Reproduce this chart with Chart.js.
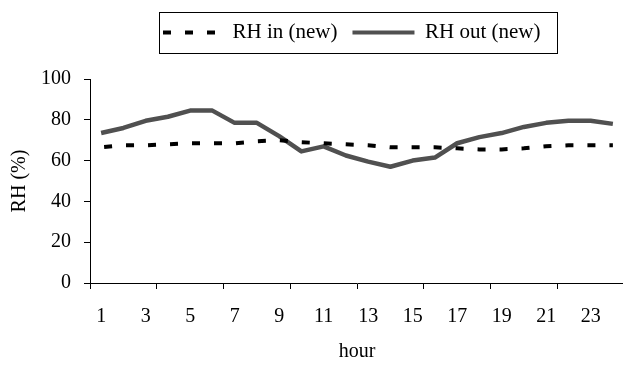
<!DOCTYPE html>
<html>
<head>
<meta charset="utf-8">
<title>RH in / out</title>
<script src="https://cdn.jsdelivr.net/npm/chart.js@4.4.1/dist/chart.umd.min.js"></script>
<style>
  html, body { margin: 0; padding: 0; background: #fff; overflow: hidden; }
  #wrap { width: 640px; height: 366px; }
</style>
</head>
<body>
<div id="wrap"><canvas id="chartRH" width="640" height="366"></canvas></div>
<script>
// hour of day (category labels)
const hours = ['1', '2', '3', '4', '5', '6', '7', '8', '9', '10', '11', '12',
               '13', '14', '15', '16', '17', '18', '19', '20', '21', '22', '23', '24'];

// relative humidity inside (new), %
const rhIn = [66.5, 67.5, 67.5, 68, 68.5, 68.5, 68.5, 69.5, 70, 69, 68.5, 68,
              67.5, 66.5, 66.5, 66.5, 66, 65.5, 65.5, 66, 67, 67.5, 67.5, 67.5];

// relative humidity outside (new), %
const rhOut = [73.5, 76, 79.5, 81.5, 84.5, 84.5, 78.5, 78.5, 72, 64.5, 67, 62.5,
               59.5, 57, 60, 61.5, 68.5, 71.5, 73.5, 76.5, 78.5, 79.5, 79.5, 78];

const serif = "'Liberation Serif', 'Times New Roman', serif";
const axisFont = { family: serif, size: 20 };
const legendFontSize = 21;

// legend sits above the plot, off-centre, in a thin frame (like the Excel original)
const legendFrame = {
    id: 'legendFrame',
    afterLayout(chart) {
        const lg = chart.legend;
        if (!lg || !lg.lineWidths) return;
        const p = lg.options.labels.padding;
        const startX = 160, midY = 32.5;
        const h = lg.height;
        lg.left = startX - p;
        lg.right = startX + lg.lineWidths[0];
        lg.width = lg.right - lg.left;
        lg.top = midY - p - legendFontSize / 2;
        lg.bottom = lg.top + h;
        lg._frame = {
            x: startX - 0.5,
            y: Math.round(midY - 20.5) + 0.5,
            w: Math.round(lg.lineWidths[0] - p + 18),
            h: 41
        };
    },
    afterDraw(chart) {
        const f = chart.legend && chart.legend._frame;
        if (!f) return;
        const ctx = chart.ctx;
        ctx.save();
        ctx.strokeStyle = '#000';
        ctx.lineWidth = 1;
        ctx.setLineDash([]);
        ctx.strokeRect(f.x, f.y, f.w, f.h);
        ctx.restore();
    }
};

// legend samples: take dash / width / colour from the line itself, not from the points
function lineLegendLabels(chart) {
    const items = Chart.defaults.plugins.legend.labels.generateLabels(chart);
    return items.map(item => {
        const ds = chart.data.datasets[item.datasetIndex];
        item.lineDash = ds.borderDash || [];
        item.lineDashOffset = ds.borderDashOffset || 0;
        item.lineWidth = 4;
        item.strokeStyle = ds.borderColor;
        item.fillStyle = ds.borderColor;
        item.lineCap = 'butt';
        return item;
    });
}

new Chart(document.getElementById('chartRH'), {
    type: 'line',
    data: {
        labels: hours,
        datasets: [
            {
                label: 'RH in (new)',
                data: rhIn,
                borderColor: '#000000',
                backgroundColor: '#000000',
                borderWidth: 4,
                borderDash: [8, 14],
                borderDashOffset: 19,   // keeps the 3 dashes clean in the legend sample
                borderCapStyle: 'butt',
                tension: 0,
                pointRadius: 0,
                fill: false
            },
            {
                label: 'RH out (new)',
                data: rhOut,
                borderColor: '#505050',
                backgroundColor: '#505050',
                borderWidth: 4.5,
                borderJoinStyle: 'round',
                tension: 0,
                pointRadius: 0,
                fill: false
            }
        ]
    },
    options: {
        responsive: false,
        devicePixelRatio: 1,
        animation: false,
        layout: { padding: { top: 33, right: 16, left: 0, bottom: 0 } },
        plugins: {
            legend: {
                position: 'top',
                labels: {
                    usePointStyle: true,
                    pointStyle: 'line',
                    pointStyleWidth: 62,
                    padding: 15,
                    color: '#000',
                    font: { family: serif, size: legendFontSize },
                    generateLabels: lineLegendLabels
                }
            },
            tooltip: { enabled: false }
        },
        scales: {
            x: {
                type: 'category',
                offset: true,
                grid: {
                    offset: true,
                    drawOnChartArea: false,
                    drawTicks: true,
                    tickLength: 6,
                    color: c => (c.index % 3 === 0 ? '#000' : 'rgba(0,0,0,0)')
                },
                border: { color: '#000', width: 1 },
                ticks: {
                    autoSkip: false,
                    maxRotation: 0,
                    padding: 16,
                    color: '#000',
                    font: axisFont,
                    callback: (v, i) => (i % 2 === 0 ? hours[i] : '')
                },
                title: {
                    display: true,
                    text: 'hour',
                    color: '#000',
                    font: axisFont,
                    padding: { top: 0, bottom: 2 }
                },
                afterFit: s => { s.height = 83; }
            },
            y: {
                min: 0,
                max: 100,
                grid: { drawOnChartArea: false, tickLength: 6, color: '#000' },
                border: { color: '#000', width: 1 },
                ticks: { stepSize: 20, padding: 13, color: '#000', font: axisFont },
                title: {
                    display: true,
                    text: 'RH (%)',
                    color: '#000',
                    font: axisFont,
                    padding: { top: 8, bottom: 0 }
                },
                afterFit: s => { s.width = 90; }
            }
        }
    },
    plugins: [legendFrame]
});
</script>
</body>
</html>
